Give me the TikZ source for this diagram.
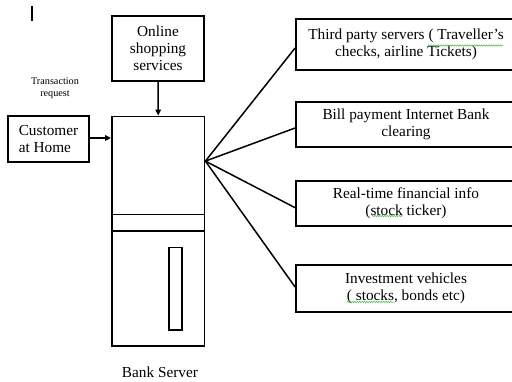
\documentclass[tikz,border=0pt]{standalone}
\usepackage{fontspec}
\setmainfont{Liberation Serif}
\usetikzlibrary{arrows.meta,calc,decorations.pathmorphing}
\begin{document}
\begin{tikzpicture}[x=1pt,y=-1pt,
  box/.style={draw,line width=1.8pt,inner sep=0pt,align=center,
    font=\fontsize{15.3}{17}\selectfont},
  conn/.style={line width=1.5pt},
  arr/.style={line width=1.5pt,-{Triangle[length=6pt,width=5.5pt]}},
  squig/.style={draw=green!45!gray,line width=0.5pt,decorate,
    decoration={snake,amplitude=0.7pt,segment length=2.4pt}}]
\useasboundingbox (0,0) rectangle (512,381);
\clip (0,0) rectangle (512,381);
% cursor bar
\draw[line width=1.2pt] (32,6) -- (32,21);
% left side
\node[box,minimum width=92pt,minimum height=65pt] (shop) at (158,48.5) {Online\\shopping\\services};
\node[box,minimum width=81pt,minimum height=46pt,align=left] (cust) at (48.5,139) {Customer\\at Home};
\node[align=center,font=\fontsize{10.2}{12}\selectfont,inner sep=0pt] (treq) at (55,88.5) {Transaction\\request};
\node[box,minimum width=92.5pt,minimum height=229.5pt] (server) at (158.25,231.25) {};
\draw[line width=1.6pt] (server.west |- 0,214.3) -- (server.east |- 0,214.3);
\draw[line width=1.6pt] (server.west |- 0,231) -- (server.east |- 0,231);
\node[draw,line width=1.5pt,minimum width=13pt,minimum height=82.3pt,inner sep=0pt] (slot) at (175.5,288.85) {};
\node[font=\fontsize{15.3}{17}\selectfont,inner sep=0pt] (bank) at (160,372) {Bank Server};
% right boxes
\node[box,minimum width=220pt,minimum height=50.7pt] (b1) at (406,44.7) {Third party servers ( Traveller’s\\checks, airline Tickets)};
\node[box,minimum width=220pt,minimum height=45pt] (b2) at (406,124.5) {Bill payment Internet Bank\\clearing};
\node[box,minimum width=220pt,minimum height=45pt] (b3) at (406,203.2) {Real-time financial info\\(stock ticker)};
\node[box,minimum width=220pt,minimum height=46.7pt] (b4) at (406,288.3) {Investment vehicles\\( stocks, bonds etc)};
% arrows
\draw[arr] (shop.south) -- (server.north);
\draw[arr] (cust.east |- 0,138) -- (server.west |- 0,138);
% fan
\coordinate (fan) at ($(server.north east)+(0,45.5)$);
\draw[conn] (fan) -- ($(b1.west)+(0,3.3)$);
\draw[conn] (fan) -- ($(b2.west)+(0,3.5)$);
\draw[conn] (fan) -- ($(b3.west)+(0,4.5)$);
\draw[conn] (fan) -- ($(b4.west)+(0,-1.3)$);
% spell-check squiggles
\draw[squig] (428,45.5) -- (503,45.5);
\draw[squig] (372,216) -- (403,216);
\draw[squig] (347,302) -- (394,302);
\end{tikzpicture}
\end{document}
